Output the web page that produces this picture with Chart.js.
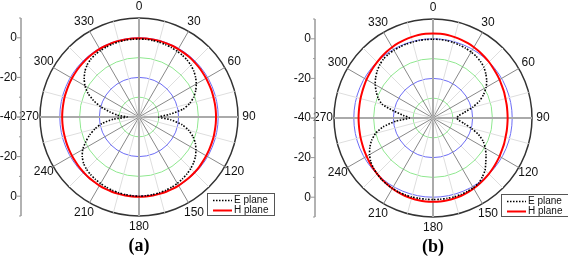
<!DOCTYPE html>
<html>
<head>
<meta charset="utf-8">
<script src="https://cdn.jsdelivr.net/npm/chart.js@4.4.1/dist/chart.umd.min.js"></script>
<style>
  html, body { margin: 0; padding: 0; background: #fff; overflow: hidden; width: 568px; height: 259px; }
  canvas { position: absolute; }
</style>
</head>
<body>
<canvas id="chartA" width="284" height="260" style="left:-3px; top:-1px;"></canvas>
<canvas id="chartB" width="284" height="260" style="left:291px; top:0px;"></canvas>
<script>
//================ data ================
// angles in degrees, clockwise from the top
var angles = [0, 5, 10, 15, 20, 25, 30, 35, 40, 45, 50, 55, 60, 65, 70, 75, 80, 85,
              90, 95, 100, 105, 110, 115, 120, 125, 130, 135, 140, 145, 150, 155, 160, 165, 170, 175,
              180, 185, 190, 195, 200, 205, 210, 215, 220, 225, 230, 235, 240, 245, 250, 255, 260, 265,
              270, 275, 280, 285, 290, 295, 300, 305, 310, 315, 320, 325, 330, 335, 340, 345, 350, 355];
var angleTickLabels = ['0', '30', '60', '90', '120', '150', '180', '210', '240', '270', '300', '330'];
var radialTicks = [-40, -30, -20, -10, 0, 10];
var radialLabels = [-40, -20, 0];

// (a)
var ePlaneA = [-0.6, -0.6, -0.7, -0.9, -1.1, -1.3, -1.6, -1.9, -2.3, -3.0, -3.9, -5.1, -6.6, -8.4, -10.6, -13.5, -17.5, -24.5,
               -30, -24, -18, -14, -11, -8.6, -6.8, -5.2, -4.0, -3.1, -2.4, -1.8, -1.3, -0.9, -0.6, -0.4, -0.2, -0.1,
               0, -0.1, -0.2, -0.4, -0.6, -0.9, -1.2, -1.6, -2.0, -2.6, -3.5, -5.0, -7.2, -10.3, -13.5, -17, -21, -27,
               -34, -29, -25, -20, -15.5, -11.5, -8.5, -6.2, -4.3, -2.9, -2.0, -1.5, -1.2, -1.0, -0.8, -0.7, -0.6, -0.6];
var hPlaneA = [-0.2, -0.2, -0.2, -0.2, -0.3, -0.3, -0.4, -0.5, -0.5, -0.6, -0.7, -0.8, -0.9, -1.0, -1.0, -1.1, -1.1, -1.1,
               -1.1, -1.1, -1.1, -1.0, -1.0, -0.9, -0.8, -0.7, -0.5, -0.4, -0.3, -0.2, 0, 0.1, 0.2, 0.2, 0.3, 0.3,
               0.3, 0.3, 0.3, 0.2, 0.2, 0.1, 0, -0.2, -0.3, -0.5, -0.6, -0.8, -0.9, -1.0, -1.1, -1.2, -1.2, -1.2,
               -1.2, -1.2, -1.2, -1.1, -1.1, -1.0, -0.9, -0.8, -0.7, -0.6, -0.5, -0.4, -0.3, -0.3, -0.2, -0.2, -0.2, -0.2];

// (b)
var ePlaneB = [-0.2, -0.2, -0.3, -0.5, -0.8, -1.1, -1.5, -2.0, -2.7, -3.7, -5.2, -6.9, -9.0, -11.8, -15.0, -19.5, -24, -27,
               -28, -27, -24, -20, -15.5, -12, -9.5, -7.3, -5.2, -2.8, -1.2, 0.2, 0.7, 0.9, 1.1, 1.2, 1.2, 1.2,
               1.2, 1.2, 1.2, 1.3, 1.3, 1.2, 1.0, 0.8, 0.5, -0.1, -0.7, -1.6, -3.0, -4.8, -7.0, -10, -14.5, -21,
               -28, -25, -20, -13.5, -10.5, -8.3, -6.3, -4.6, -3.2, -2.0, -1.1, -0.7, -0.5, -0.4, -0.3, -0.3, -0.2, -0.2];
var hPlaneB = [2.7, 2.7, 2.6, 2.3, 2.0, 1.7, 1.3, 0.9, 0.4, 0.0, -0.5, -0.9, -1.2, -1.6, -1.8, -2.1, -2.2, -2.3,
               -2.3, -2.3, -2.2, -2.1, -1.8, -1.6, -1.2, -0.9, -0.5, -0.1, 0.3, 0.7, 1.1, 1.5, 1.8, 2.0, 2.2, 2.3,
               2.3, 2.3, 2.2, 2.0, 1.8, 1.5, 1.1, 0.7, 0.3, -0.1, -0.5, -0.9, -1.3, -1.6, -1.9, -2.1, -2.3, -2.4,
               -2.4, -2.4, -2.3, -2.1, -1.9, -1.6, -1.2, -0.9, -0.5, -0.1, 0.4, 0.9, 1.3, 1.7, 2.0, 2.3, 2.6, 2.7];

var sansFont = 'Arial, "Liberation Sans", sans-serif';
var serifFont = '"Times New Roman", "Liberation Serif", serif';

//================ angle labels, left radial axis, legend box ================
var polarExtras = {
    id: 'polarExtras',
    afterDraw: function(chart) {
        var r = chart.scales.r;
        var ctx = chart.ctx;
        var R = r.drawingArea;
        var ax = r.xCenter - R - 19;

        ctx.save();
        ctx.fillStyle = '#111';
        ctx.font = '12px ' + sansFont;
        ctx.textAlign = 'center';
        ctx.textBaseline = 'middle';
        // angle labels centred just outside the outer ring
        angles.forEach(function(a, i) {
            if (angleTickLabels.indexOf(String(a)) < 0) return;
            var p = r.getPointPosition(i, R + 11);
            ctx.fillText(String(a), p.x, p.y);
        });

        // left dB axis
        ctx.strokeStyle = '#999';
        ctx.lineWidth = 1.5;
        ctx.beginPath();
        ctx.moveTo(ax, r.yCenter - R);
        ctx.lineTo(ax, r.yCenter + R);
        ctx.stroke();

        ctx.lineWidth = 1;
        ctx.textAlign = 'right';
        radialTicks.forEach(function(v) {
            var d = r.getDistanceFromCenterForValue(v);
            [-1, 1].forEach(function(s) {
                var y = r.yCenter + s * d;
                var major = radialLabels.indexOf(v) >= 0;
                ctx.beginPath();
                ctx.moveTo(ax, y);
                ctx.lineTo(ax - (major ? 4 : 2), y);
                ctx.stroke();
                if (major && !(v === -40 && s === 1)) {
                    ctx.fillText(String(v), ax - 4, y);
                }
            });
        });

        // legend
        var lx = r.xCenter + 68, ly = r.yCenter + 76;
        ctx.strokeStyle = '#555';
        ctx.lineWidth = 1;
        ctx.strokeRect(Math.round(lx) + 0.5, Math.round(ly) + 0.5, 67, 22);
        ctx.textAlign = 'left';
        ctx.font = '10px ' + sansFont;
        chart.data.datasets.forEach(function(ds, i) {
            var y = ly + 7.5 + i * 10;
            ctx.strokeStyle = ds.borderColor;
            ctx.lineWidth = ds.borderWidth;
            ctx.setLineDash(ds.borderDash || []);
            ctx.beginPath();
            ctx.moveTo(lx + 6, y);
            ctx.lineTo(lx + 25, y);
            ctx.stroke();
            ctx.setLineDash([]);
            ctx.fillStyle = '#111';
            ctx.fillText(ds.label, lx + 27, y);
        });
        ctx.restore();
    }
};

function circleColor(v) {
    if (v === -30 || v === -10) return '#8fe88f';
    if (v === -20 || v === 0) return '#6c6cf5';
    if (v === 10) return '#333';
    return 'rgba(0,0,0,0)';
}

function spokeStyle(i) {
    var deg = angles[i];
    if (deg % 90 === 0) return { color: '#aaa', width: 2 };
    if (deg % 30 === 0) return { color: '#888', width: 1 };
    if (deg % 15 === 0) return { color: '#dedede', width: 1 };
    return { color: 'rgba(0,0,0,0)', width: 0 };
}

function makeChart(id, eData, hData, title) {
    return new Chart(document.getElementById(id), {
        type: 'radar',
        data: {
            labels: angles,
            datasets: [{
                label: 'E plane',
                data: eData,
                borderColor: '#000',
                backgroundColor: 'rgba(0,0,0,0)',
                borderWidth: 1.6,
                borderDash: [1.5, 1.5],
                fill: false,
                pointRadius: 0,
                tension: 0.2
            }, {
                label: 'H plane',
                data: hData,
                borderColor: '#f00',
                backgroundColor: 'rgba(0,0,0,0)',
                borderWidth: 2,
                fill: false,
                pointRadius: 0,
                tension: 0.2
            }]
        },
        options: {
            responsive: false,
            animation: false,
            devicePixelRatio: 1,
            events: [],
            layout: { padding: { top: 18.5 } },
            plugins: {
                legend: { display: false },
                tooltip: { enabled: false },
                title: {
                    display: true,
                    text: title,
                    position: 'bottom',
                    color: '#000',
                    font: { family: serifFont, size: 18, weight: 'bold' },
                    padding: { top: 18.5, bottom: 2 }
                }
            },
            scales: {
                r: {
                    min: -40,
                    max: 10,
                    startAngle: 0,
                    ticks: { display: false, stepSize: 10 },
                    grid: {
                        circular: true,
                        color: function(ctx) { return circleColor(ctx.tick.value); },
                        lineWidth: function(ctx) { return ctx.tick.value === 10 ? 1.5 : 1; }
                    },
                    angleLines: {
                        color: function(ctx) { return spokeStyle(ctx.index).color; },
                        lineWidth: function(ctx) { return spokeStyle(ctx.index).width; }
                    },
                    pointLabels: { display: false }
                }
            }
        },
        plugins: [polarExtras]
    });
}

var chartA = makeChart('chartA', ePlaneA, hPlaneA, '(a)');
var chartB = makeChart('chartB', ePlaneB, hPlaneB, '(b)');
</script>
</body>
</html>
